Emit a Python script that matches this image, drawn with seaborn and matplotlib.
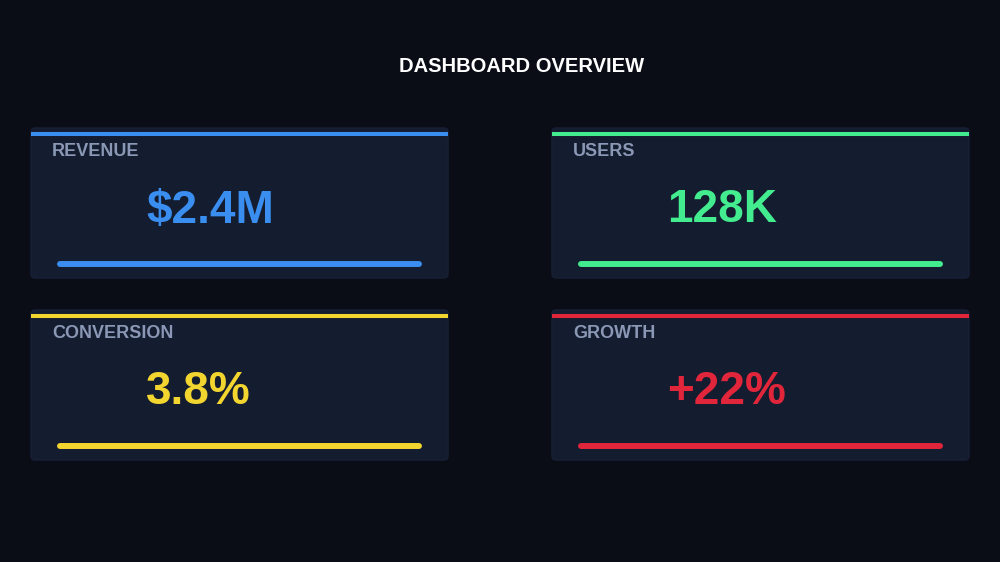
import matplotlib
matplotlib.use("Agg")
import matplotlib.pyplot as plt
from matplotlib.patches import FancyBboxPatch
import seaborn as sns
import pandas as pd

# ---- data ----
titles = ["REVENUE", "USERS", "CONVERSION", "GROWTH"]
values = ["$2.4M", "128K", "3.8%", "+22%"]
progress = [1.0, 1.0, 1.0, 1.0]
colors = ["#3a8ef0", "#43ec8f", "#f3d52f", "#e1263b"]
chart_title = "DASHBOARD OVERVIEW"

BG = "#0a0d16"
CARD = "#141c2f"
LABEL = "#8a98b5"

sns.set_theme(style="dark")
plt.rcParams["font.family"] = ["Liberation Sans", "DejaVu Sans"]

W, H = 1000, 562
fig = plt.figure(figsize=(W / 100, H / 100), dpi=100, facecolor=BG)
ax = fig.add_axes([0, 0, 1, 1])
ax.set_facecolor(BG)

# layout (pixels)
card_lefts = [31, 552, 31, 552]
card_tops = [128, 128, 310, 310]
card_w, card_h = 417, 150

rows = []
for i in range(4):
    L, T = card_lefts[i], card_tops[i]
    ax.add_patch(FancyBboxPatch((L, T), card_w, card_h,
                                boxstyle="round,pad=0,rounding_size=4",
                                facecolor=CARD, edgecolor="#182036", lw=1.0, zorder=1))
    # top accent line
    ax.plot([L, L + card_w], [T + 6, T + 6], color=colors[i], lw=2.9,
            solid_capstyle="butt", zorder=3)
    # progress bar
    x0 = L + 29
    x1 = x0 + (card_w - 58) * progress[i]
    rows.append(pd.DataFrame({"x": [x0, x1], "y": [T + 135.5, T + 135.5], "card": titles[i]}))
    ax.text(L + 21, T + 24, titles[i], color=LABEL, fontsize=13, fontweight="bold",
            ha="left", va="center", zorder=4)
    ax.text(L + 115, T + 82.5, values[i], color=colors[i], fontsize=33, fontweight="bold",
            ha="left", va="center", zorder=4)

df = pd.concat(rows, ignore_index=True)
sns.lineplot(data=df, x="x", y="y", hue="card", palette=dict(zip(titles, colors)),
             lw=4.3, legend=False, ax=ax, zorder=3, solid_capstyle="round", sort=False)
ax.set_xlim(0, W)
ax.set_ylim(H, 0)
ax.axis("off")

ax.text(522, 67, chart_title, color="white", fontsize=14.5, fontweight="bold",
        ha="center", va="center")

fig.savefig("out.png", dpi=100, facecolor=BG)
